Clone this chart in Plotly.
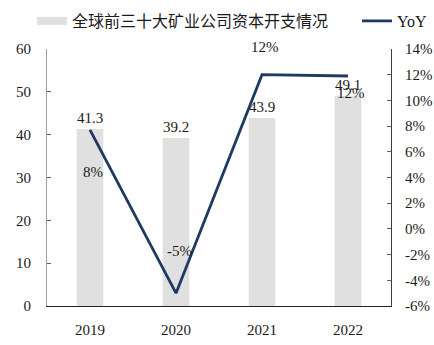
import plotly.graph_objects as go

# Data
years = ["2019", "2020", "2021", "2022"]
capex = [41.3, 39.2, 43.9, 49.1]          # 全球前三十大矿业公司资本开支
yoy = [7.7, -5.0, 12.0, 11.9]             # YoY, %
right_ticks = [-6, -4, -2, 0, 2, 4, 6, 8, 10, 12, 14]

# Styling
BAR_COLOR = "#E0E0E0"
LINE_COLOR = "#1F3A60"
SERIF = "Liberation Serif, 'Times New Roman', 'Noto Sans CJK SC', serif"
TEXT_COLOR = "#1a1a1a"
yoy_label_shift = [-42, 42, 28, -17]      # vertical offset of YoY labels (px)

fig = go.Figure()

fig.add_trace(go.Bar(
    x=years, y=capex, name="全球前三十大矿业公司资本开支情况",
    marker=dict(color=BAR_COLOR, line=dict(width=0)),
    width=0.31,
    text=[f"{v:.1f}" for v in capex], textposition="outside",
    textfont=dict(family=SERIF, size=15, color=TEXT_COLOR),
    constraintext="none", cliponaxis=False,
    showlegend=False, yaxis="y",
))

# legend swatch for the bar series (wide flat patch)
fig.add_trace(go.Scatter(
    x=[years[0]], y=[None], mode="lines", name="全球前三十大矿业公司资本开支情况",
    line=dict(color=BAR_COLOR, width=8), yaxis="y", legend="legend",
))

fig.add_trace(go.Scatter(
    x=years, y=yoy, name="YoY", mode="lines",
    line=dict(color=LINE_COLOR, width=2.8),
    yaxis="y2", cliponaxis=False, legend="legend2",
))

# YoY labels (category axis: position by category index)
for i, (v, dy) in enumerate(zip(yoy, yoy_label_shift)):
    fig.add_annotation(
        x=i, y=v, xref="x", yref="y2", text=f"{v:.0f}%", showarrow=False,
        yshift=dy, xshift=3,
        font=dict(family=SERIF, size=15, color=TEXT_COLOR),
    )

legend_common = dict(
    orientation="h", xref="container", yref="container",
    xanchor="left", y=1 - 4 / 345, yanchor="top",
    font=dict(family=SERIF, size=16, color=TEXT_COLOR),
    bgcolor="rgba(0,0,0,0)", itemwidth=30,
)

fig.update_layout(
    width=434, height=345,
    margin=dict(l=47, r=43, t=49, b=39, autoexpand=False),
    plot_bgcolor="white", paper_bgcolor="white",
    font=dict(family=SERIF, size=15, color=TEXT_COLOR),
    xaxis=dict(
        type="category", categoryorder="array", categoryarray=years,
        range=[-0.5, 3.5],
        showline=True, linecolor="#222222", linewidth=1,
        ticks="", showgrid=False, zeroline=False,
        tickfont=dict(family=SERIF, size=15, color=TEXT_COLOR),
        ticklabelstandoff=10,
    ),
    yaxis=dict(
        range=[0, 60], dtick=10, showline=True, linecolor="#A0A0A0", linewidth=1,
        ticks="inside", ticklen=4, tickcolor="#606060",
        showgrid=False, zeroline=False,
        tickfont=dict(family=SERIF, size=15, color=TEXT_COLOR),
        ticklabelstandoff=12,
    ),
    yaxis2=dict(
        range=[-6, 14], overlaying="y", side="right",
        tickvals=right_ticks, ticktext=[f"{t}%" for t in right_ticks],
        showline=True, linecolor="#404040", linewidth=1,
        ticks="inside", ticklen=4, tickcolor="#606060",
        showgrid=False, zeroline=False,
        tickfont=dict(family=SERIF, size=15, color=TEXT_COLOR),
        ticklabelstandoff=10,
    ),
    legend=dict(legend_common, x=32 / 434),
    legend2=dict(legend_common, x=357 / 434),
)

fig.write_html("out.html")
